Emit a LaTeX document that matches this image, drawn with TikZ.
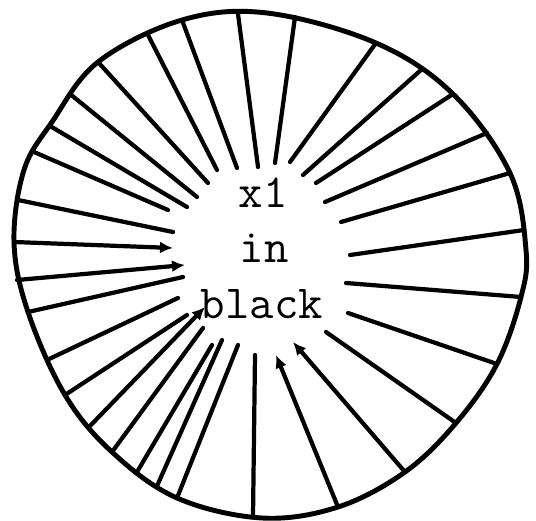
\documentclass[tikz,border=0pt]{standalone}
\usetikzlibrary{arrows.meta}
\begin{document}
\begin{tikzpicture}[x=0.01cm,y=-0.01cm,
    >={Latex[length=1.3mm,width=1.2mm]},
    rim/.style={line width=1.4pt,line join=round},
    spoke/.style={line width=1.2pt,line cap=round},
    caption/.style={font=\fontsize{13.5}{15}\selectfont\ttfamily,anchor=base,inner sep=0pt}
  ]
  \useasboundingbox (0,0) rectangle (536,521);
  % hand drawn rim
  \draw[rim] plot[smooth cycle,tension=0.6] coordinates {
    (267,13) (376,43) (453,94) (510,173) (526,250) (521,297) (497,364)
    (456,423) (405,472) (338,507) (262,518) (177,498) (112,452) (65,395)
    (28,312) (14,242) (24,170) (52,122) (98,62) (182,20)};
  % spokes: rim point / inner end / tip
  \foreach \ox/\oy/\ix/\iy/\tip [count=\k] in {
      238/14/258/167/-, 182/20/237/168/-, 147/33/217/170/-, 98/62/208/183/-,
      70/94/197/197/-, 50/126/187/207/-, 34/152/168/210/-, 18/200/173/232/-,
      14/242/173/248/->, 17/280/185/265/->, 28/312/183/277/-, 47/360/178/298/-,
      65/395/187/315/-, 89/427/205/307/->, 112/452/203/328/-, 137/472/212/345/-,
      157/486/222/340/-, 177/498/238/345/-, 253/517/255/355/-, 338/507/276/355/->,
      405/472/293/342/->, 456/423/326/332/-, 497/364/348/313/-, 521/297/346/283/-,
      524/230/350/255/-, 510/173/341/222/-, 487/133/325/202/-, 453/94/316/183/-,
      421/70/303/175/-, 376/43/290/162/-, 295/17/275/163/-}{
    \coordinate (o\k) at (\ox,\oy);
    \coordinate (n\k) at (\ix,\iy);
    \draw[spoke,arrows/.expanded=\tip] (o\k) -- (n\k);
  }
  \node[caption] (lx) at (263,207) {x1};
  \node[caption] (lin) at (264,262) {in};
  \node[caption] (lblack) at (262,318) {black};
\end{tikzpicture}
\end{document}
